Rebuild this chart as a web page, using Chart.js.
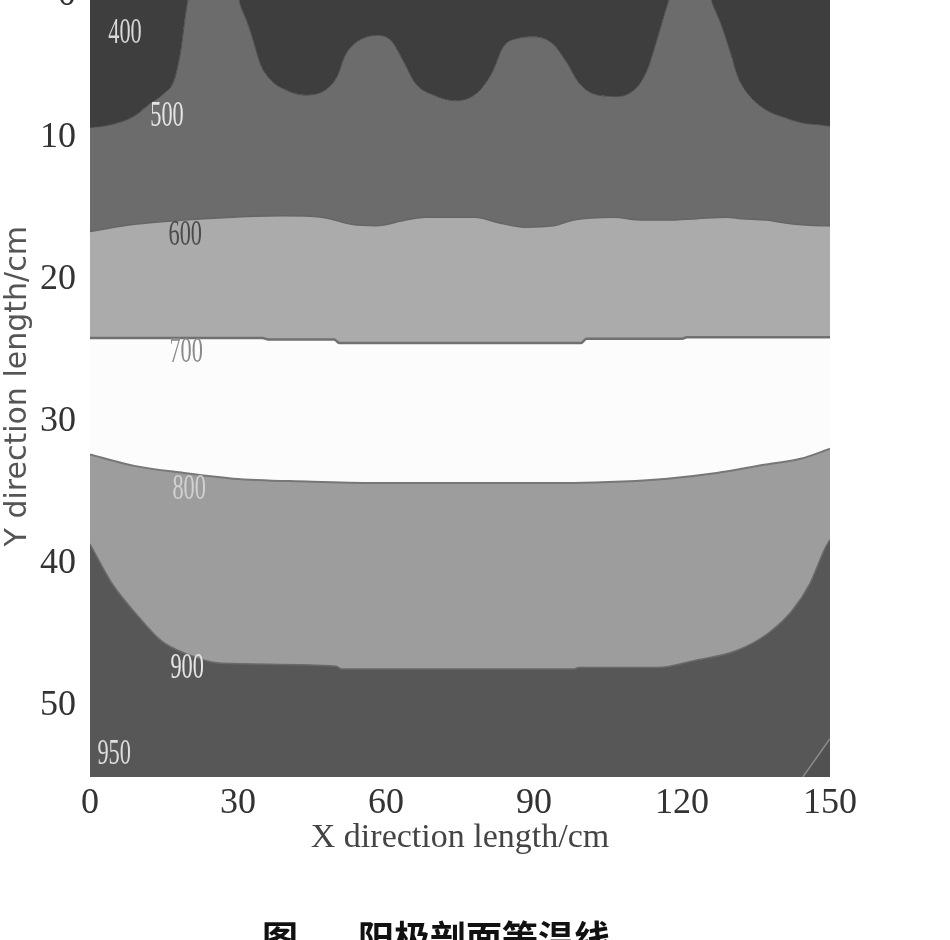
<!DOCTYPE html>
<html>
<head>
<meta charset="utf-8">
<script src="https://cdn.jsdelivr.net/npm/chart.js@4"></script>
<style>
  html, body { margin: 0; padding: 0; background: #fff; overflow: hidden; }
  body { width: 950px; height: 940px; position: relative; }
  #wrap { position: absolute; left: 0; top: -40px; width: 950px; height: 980px; }
  .cap { position: absolute; top: 918px; font-family: "Noto Sans CJK SC"; font-weight: bold;
         font-size: 36px; line-height: 36px; color: #111; white-space: nowrap; }
</style>
</head>
<body>
<div id="wrap"><canvas id="chart"></canvas></div>
<div class="cap" style="left:262px">图</div>
<div class="cap" style="left:358px">阳极剖面等温线</div>
<script>
// DATA (x, y in cm; y grows downwards)
const xTicks = [0, 30, 60, 90, 120, 150];
const yTicks = [0, 10, 20, 30, 40, 50];

// 400 | 500 boundary (wavy top)
const x500 = [0, 4.1, 8.9, 12.2, 15.0, 17.0, 18.3, 19.7, 20.3, 30.0, 30.4, 31.8, 33.3, 34.5, 36.5, 39.4, 43.4, 47.5, 50.1,
  51.6, 53.6, 56.2, 58.3, 61.1, 63.5, 66.0, 69.6, 74.1, 78.3, 81.4, 83.8, 86.9, 89.9, 93.8, 96.8, 99.2, 102.9, 107.0, 111.0,
  113.0, 115.1, 117.1, 117.8, 125.6, 126.2, 127.9, 129.9, 131.3, 133.3, 136.8, 140.9, 144.9, 148, 150];
const y500 = [9.3, 9.1, 8.5, 7.6, 6.9, 6.0, 4.1, 0.6, 0, 0, 0.6, 1.8, 3.4, 4.8, 5.9, 6.6, 7.0, 6.7, 5.7,
  4.3, 3.4, 2.9, 2.8, 3.2, 4.6, 6.2, 7.0, 7.4, 6.9, 5.5, 3.6, 3.0, 2.9, 3.4, 4.8, 6.2, 7.0, 7.1, 6.4,
  5.2, 2.9, 0.6, 0, 0, 0.6, 2.0, 4.1, 5.7, 6.9, 8.0, 8.6, 9.0, 9.1, 9.2];

// 500 | 600 boundary
const x600 = [0, 9, 19, 29, 39, 47, 53, 58, 64, 68, 78, 83, 88, 94, 98, 106, 112, 117, 123, 129, 132, 137, 143, 148, 150];
const y600 = [16.6, 16.1, 15.8, 15.6, 15.5, 15.6, 16.1, 16.2, 15.8, 15.6, 15.6, 16.0, 16.3, 16.2, 15.8, 15.6, 15.8, 15.8,
  15.7, 15.6, 15.7, 15.8, 16.1, 16.2, 16.2];

// 600 | 700 boundary
const x700 = [0, 35, 36, 49.5, 50.5, 99.6, 100.6, 120, 121, 150];
const y700 = [24.1, 24.1, 24.2, 24.2, 24.45, 24.45, 24.15, 24.15, 24.05, 24.05];

// 700 | 800 boundary
const x800 = [0, 9, 19, 29, 44, 58, 98, 108, 117, 127, 137, 144, 150];
const y800 = [32.3, 33.1, 33.6, 34.0, 34.2, 34.3, 34.3, 34.2, 34.0, 33.6, 33.0, 32.6, 31.9];

// 800 | 900 boundary
const x900 = [0, 4.5, 9.3, 14.4, 19.3, 26.6, 49.9, 51, 98, 99, 115, 122.6, 131.1, 137.4, 142.3, 145.9, 149, 150];
const y900 = [38.6, 41.4, 43.5, 45.4, 46.3, 47.0, 47.2, 47.4, 47.4, 47.3, 47.3, 46.8, 46.1, 44.9, 43.3, 41.4, 38.9, 38.3];

// 950 corner
const x950 = [144.5, 150];
const y950 = [55, 52.3];

// contour labels
const levelText = ['400', '500', '600', '700', '800', '900', '950'];
const levelX = [7.1, 15.6, 19.3, 19.5, 20.1, 19.7, 4.9];
const levelY = [2.7, 8.5, 16.9, 25.1, 34.8, 47.4, 53.4];

function pts(xs, ys) {
  return xs.map((x, i) => ({ x: x, y: ys[i] }));
}

function band(data, color, line, width, target, order) {
  return {
    data: data,
    backgroundColor: color,
    borderColor: line,
    borderWidth: width,
    fill: { value: target },
    pointRadius: 0,
    cubicInterpolationMode: 'monotone',
    order: order
  };
}

const labelColors = ['#d8d8d8', '#e4e4e4', '#4a4a4a', '#8a8a8a', '#d2d2d2', '#e6e6e6', '#dedede'];

const contourLabels = {
  id: 'contourLabels',
  afterDatasetsDraw(chart) {
    const ctx = chart.ctx;
    const xs = chart.scales.x, ys = chart.scales.y;
    levelText.forEach((t, i) => {
      ctx.save();
      ctx.translate(xs.getPixelForValue(levelX[i]), ys.getPixelForValue(levelY[i]));
      ctx.scale(0.62, 1);
      ctx.font = '36px "Liberation Serif"';
      ctx.textAlign = 'center';
      ctx.textBaseline = 'middle';
      ctx.fillStyle = labelColors[i];
      ctx.fillText(t, 0, 0);
      ctx.restore();
    });
  }
};

new Chart(document.getElementById('chart'), {
  type: 'line',
  data: {
    datasets: [
      band(pts(x500, y500), '#3e3e3e', 'rgba(0,0,0,0)', 0, 0, 10),
      band(pts(x500, y500), '#6c6c6c', '#4c4c4c', 1, 55, 9),
      band(pts(x600, y600), '#ababab', '#666666', 1.5, 55, 8),
      band(pts(x700, y700), '#fcfcfc', '#707070', 2.5, 55, 7),
      band(pts(x800, y800), '#9d9d9d', '#777777', 2, 55, 6),
      band(pts(x900, y900), '#575757', '#6a6a6a', 1.5, 55, 5),
      band(pts(x950, y950), '#515151', '#8a8a8a', 1.5, 55, 4)
    ]
  },
  options: {
    responsive: true,
    maintainAspectRatio: false,
    animation: false,
    layout: { padding: { top: 32, right: 120, left: 0, bottom: 0 } },
    plugins: { legend: { display: false }, tooltip: { enabled: false } },
    scales: {
      x: {
        type: 'linear',
        min: 0,
        max: 150,
        afterFit: s => { s.height = 163; },
        afterBuildTicks: s => { s.ticks = xTicks.map(v => ({ value: v })); },
        grid: { display: false, drawTicks: false },
        border: { display: false },
        ticks: { padding: 5, color: '#333', font: { family: 'Liberation Serif', size: 36 } },
        title: {
          display: true,
          text: 'X direction length/cm',
          color: '#444',
          padding: { top: 0, bottom: 82 },
          font: { family: 'Liberation Serif', size: 34 }
        }
      },
      y: {
        type: 'linear',
        reverse: true,
        min: 0,
        max: 55,
        afterFit: s => { s.width = 90; },
        afterBuildTicks: s => { s.ticks = yTicks.map(v => ({ value: v })); },
        grid: { display: false, drawTicks: false },
        border: { display: false },
        ticks: { padding: 14, color: '#333', font: { family: 'Liberation Serif', size: 36 } },
        title: {
          display: true,
          text: 'Y direction length/cm',
          color: '#555',
          padding: { top: 0, bottom: 0 },
          font: { family: 'DejaVu Sans', size: 30 }
        }
      }
    }
  },
  plugins: [contourLabels]
});
</script>
</body>
</html>
